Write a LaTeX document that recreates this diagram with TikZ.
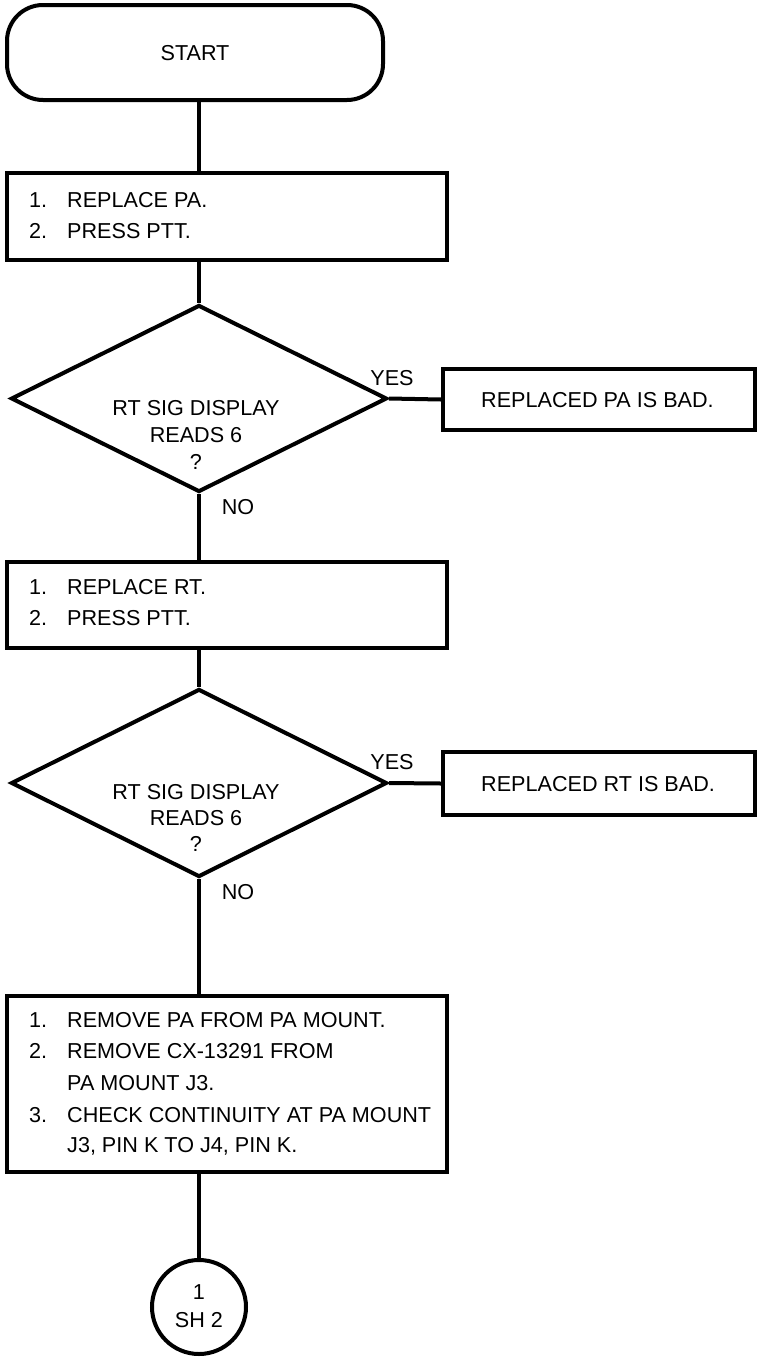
\documentclass[tikz,border=0pt]{standalone}
\usepackage{fontspec}
\setmainfont{Liberation Sans}
\usetikzlibrary{shapes.geometric}
\begin{document}
\begin{tikzpicture}[x=1pt,y=-1pt,
  every node/.style={font=\fontsize{21.6}{27}\selectfont},
  shp/.style={draw, line width=4pt, inner sep=0pt},
  boxshape/.style={shp, rectangle, minimum height=#1},
  lbl/.style={inner sep=0pt, text height=15.5pt, text depth=0pt},
  conn/.style={line width=4pt}]
\useasboundingbox (0,0) rectangle (758,1357);
% shapes
\node[shp, rectangle, rounded corners=36pt, minimum width=376pt, minimum height=95pt] (start) at (195,52.5) {};
\node[boxshape=87pt, minimum width=440pt] (b1) at (227,216.5) {};
\node[shp, diamond, minimum width=376pt, minimum height=187pt] (d1) at (199,398.5) {};
\node[boxshape=61pt, minimum width=312pt] (pa) at (599,399.5) {};
\node[boxshape=86pt, minimum width=440pt] (b2) at (227,605) {};
\node[shp, diamond, minimum width=376pt, minimum height=188pt] (d2) at (199,783) {};
\node[boxshape=63pt, minimum width=312pt] (rt) at (599,783.5) {};
\node[boxshape=176pt, minimum width=440pt] (b3) at (227,1084) {};
\node[shp, circle, minimum size=94pt] (c) at (199,1307) {};
% texts
\node[lbl] (tstart) at (195,52.5) {START};
\node[lbl, anchor=west] (b1n1) at (29,200) {1.};
\node[lbl, anchor=west] (b1t1) at (67,200) {REPLACE PA.};
\node[lbl, anchor=west] (b1n2) at (29,231) {2.};
\node[lbl, anchor=west] (b1t2) at (67,231) {PRESS PTT.};
\node[lbl] (d1t1) at (196,408) {RT SIG DISPLAY};
\node[lbl] (d1t2) at (196,435) {READS 6};
\node[lbl] (d1t3) at (196,462) {?};
\node[lbl] (yes1) at (392,378) {YES};
\node[lbl, anchor=west] (pat) at (481,400) {REPLACED PA IS BAD.};
\node[lbl] (no1) at (238,507) {NO};
\node[lbl, anchor=west] (b2n1) at (29,587) {1.};
\node[lbl, anchor=west] (b2t1) at (67,587) {REPLACE RT.};
\node[lbl, anchor=west] (b2n2) at (29,618) {2.};
\node[lbl, anchor=west] (b2t2) at (67,618) {PRESS PTT.};
\node[lbl] (d2t1) at (196,792) {RT SIG DISPLAY};
\node[lbl] (d2t2) at (196,818) {READS 6};
\node[lbl] (d2t3) at (196,844) {?};
\node[lbl] (yes2) at (392,762) {YES};
\node[lbl, anchor=west] (rtt) at (481,784) {REPLACED RT IS BAD.};
\node[lbl] (no2) at (238,892) {NO};
\node[lbl, anchor=west] (b3n1) at (29,1020) {1.};
\node[lbl, anchor=west] (b3t1) at (67,1020) {REMOVE PA FROM PA MOUNT.};
\node[lbl, anchor=west] (b3n2) at (29,1051) {2.};
\node[lbl, anchor=west] (b3t2) at (67,1051) {REMOVE CX-13291 FROM};
\node[lbl, anchor=west] (b3t3) at (67,1083) {PA MOUNT J3.};
\node[lbl, anchor=west] (b3n3) at (29,1115) {3.};
\node[lbl, anchor=west] (b3t4) at (67,1115) {CHECK CONTINUITY AT PA MOUNT};
\node[lbl, anchor=west] (b3t5) at (67,1145) {J3, PIN K TO J4, PIN K.};
\node[lbl] (ct1) at (199,1292) {1};
\node[lbl] (ct2) at (199,1320) {SH 2};
% connectors
\draw[conn] (start.south -| c.north) -- (b1.north -| c.north);
\draw[conn] (b1.south -| d1.north) -- (d1.north);
\draw[conn] (d1.east) -- (pa.west);
\draw[conn] (d1.south) -- (b2.north -| d1.south);
\draw[conn] (b2.south -| d2.north) -- (d2.north);
\draw[conn] (d2.east) -- (rt.west);
\draw[conn] (d2.south) -- (b3.north -| d2.south);
\draw[conn] (b3.south -| c.north) -- (c.north);
\end{tikzpicture}
\end{document}
